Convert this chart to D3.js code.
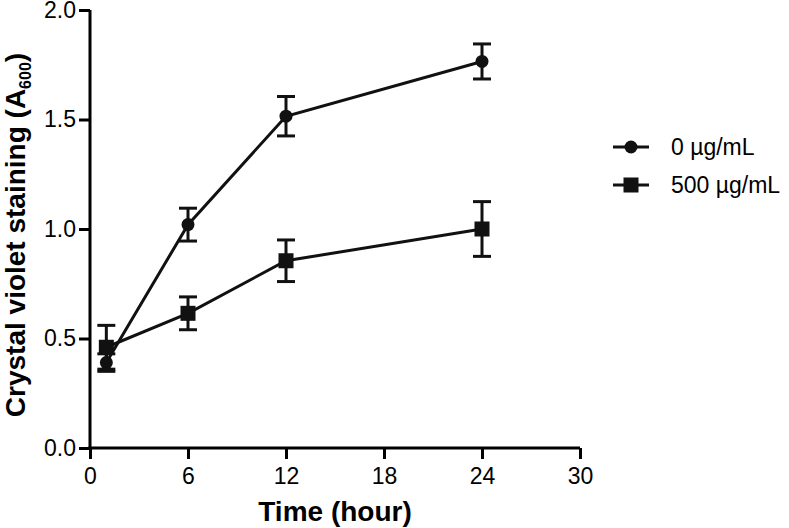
<!DOCTYPE html>
<html>
<head>
<meta charset="utf-8">
<script src="https://cdn.jsdelivr.net/npm/d3@7"></script>
<style>
body { margin: 0; background: #fff; }
text { font-family: Arial, "Liberation Sans", sans-serif; fill: #000; }
</style>
</head>
<body>
<svg id="chart" width="789" height="528"></svg>
<script>
var hours = [1, 6, 12, 24];
var seriesNames = ['0 µg/mL', '500 µg/mL'];
var mean0 = [0.39, 1.02, 1.515, 1.765];
var err0 = [0.04, 0.075, 0.09, 0.08];
var mean500 = [0.46, 0.615, 0.855, 1.0];
var err500 = [0.10, 0.075, 0.095, 0.125];
var xTicks = [0, 6, 12, 18, 24, 30];
var yTicks = [0, 0.5, 1.0, 1.5, 2.0];

var svg = d3.select('#chart');
var x = d3.scaleLinear().domain([0, 30]).range([90, 580]);
var y = d3.scaleLinear().domain([0, 2]).range([448, 10]);

// axes
var xAxis = svg.append('g')
  .attr('transform', 'translate(0,448)')
  .call(d3.axisBottom(x).tickValues(xTicks).tickSize(11).tickPadding(9).tickSizeOuter(0));
var yAxis = svg.append('g')
  .attr('transform', 'translate(90,0)')
  .call(d3.axisLeft(y).tickValues(yTicks).tickSize(11).tickPadding(3).tickSizeOuter(0).tickFormat(d3.format('.1f')));

[xAxis, yAxis].forEach(function(a) {
  a.select('.domain').attr('stroke', '#000').attr('stroke-width', 3);
  a.selectAll('.tick line').attr('stroke', '#000').attr('stroke-width', 3);
  a.selectAll('.tick text').style('font-size', '23px').attr('fill', '#000');
});
// extend domains so the corner is closed
xAxis.select('.domain').attr('d', 'M' + (x(0) - 1.5) + ',0H' + x(30));
yAxis.select('.domain').attr('d', 'M0,' + (y(0) + 1.5) + 'V' + y(2));

svg.append('text')
  .attr('x', (x(0) + x(30)) / 2).attr('y', 521)
  .attr('text-anchor', 'middle')
  .style('font-size', '28px').style('font-weight', 'bold')
  .text('Time (hour)');

var yt = svg.append('text')
  .attr('transform', 'translate(25,' + ((y(0) + y(2)) / 2 + 6) + ') rotate(-90)')
  .attr('text-anchor', 'middle')
  .style('font-size', '28px').style('font-weight', 'bold');
yt.append('tspan').text('Crystal violet staining (A');
yt.append('tspan').attr('dy', 6).style('font-size', '16px').text('600');
yt.append('tspan').attr('dy', -6).text(')');

var series = [
  {name: seriesNames[0], mean: mean0, err: err0, shape: 'circle'},
  {name: seriesNames[1], mean: mean500, err: err500, shape: 'square'}
];

var line = d3.line()
  .x(function(d) { return x(d.h); })
  .y(function(d) { return y(d.m); });

function drawMarker(g, shape, cx, cy) {
  if (shape == 'circle') {
    g.append('circle').attr('cx', cx).attr('cy', cy).attr('r', 6.5).attr('fill', '#111');
  } else {
    g.append('rect').attr('x', cx - 7.5).attr('y', cy - 7.5).attr('width', 15).attr('height', 15).attr('fill', '#111');
  }
}

series.forEach(function(s) {
  var pts = hours.map(function(h, i) { return {h: h, m: s.mean[i], e: s.err[i]}; });
  var g = svg.append('g');
  // error bars
  pts.forEach(function(p) {
    var cx = x(p.h);
    g.append('line').attr('x1', cx).attr('x2', cx)
      .attr('y1', y(p.m - p.e)).attr('y2', y(p.m + p.e))
      .attr('stroke', '#111').attr('stroke-width', 3);
    [p.m - p.e, p.m + p.e].forEach(function(v) {
      g.append('line').attr('x1', cx - 9).attr('x2', cx + 9)
        .attr('y1', y(v)).attr('y2', y(v))
        .attr('stroke', '#111').attr('stroke-width', 3);
    });
  });
  g.append('path').datum(pts).attr('d', line)
    .attr('fill', 'none').attr('stroke', '#111').attr('stroke-width', 3);
  pts.forEach(function(p) { drawMarker(g, s.shape, x(p.h), y(p.m)); });
});

// legend
series.forEach(function(s, i) {
  var ly = 147 + i * 38;
  var g = svg.append('g');
  g.append('line').attr('x1', 613).attr('x2', 649).attr('y1', ly).attr('y2', ly)
    .attr('stroke', '#111').attr('stroke-width', 3);
  drawMarker(g, s.shape, 631, ly);
  g.append('text').attr('x', 671).attr('y', ly + 7.5)
    .style('font-size', '23px').text(s.name);
});
</script>
</body>
</html>
